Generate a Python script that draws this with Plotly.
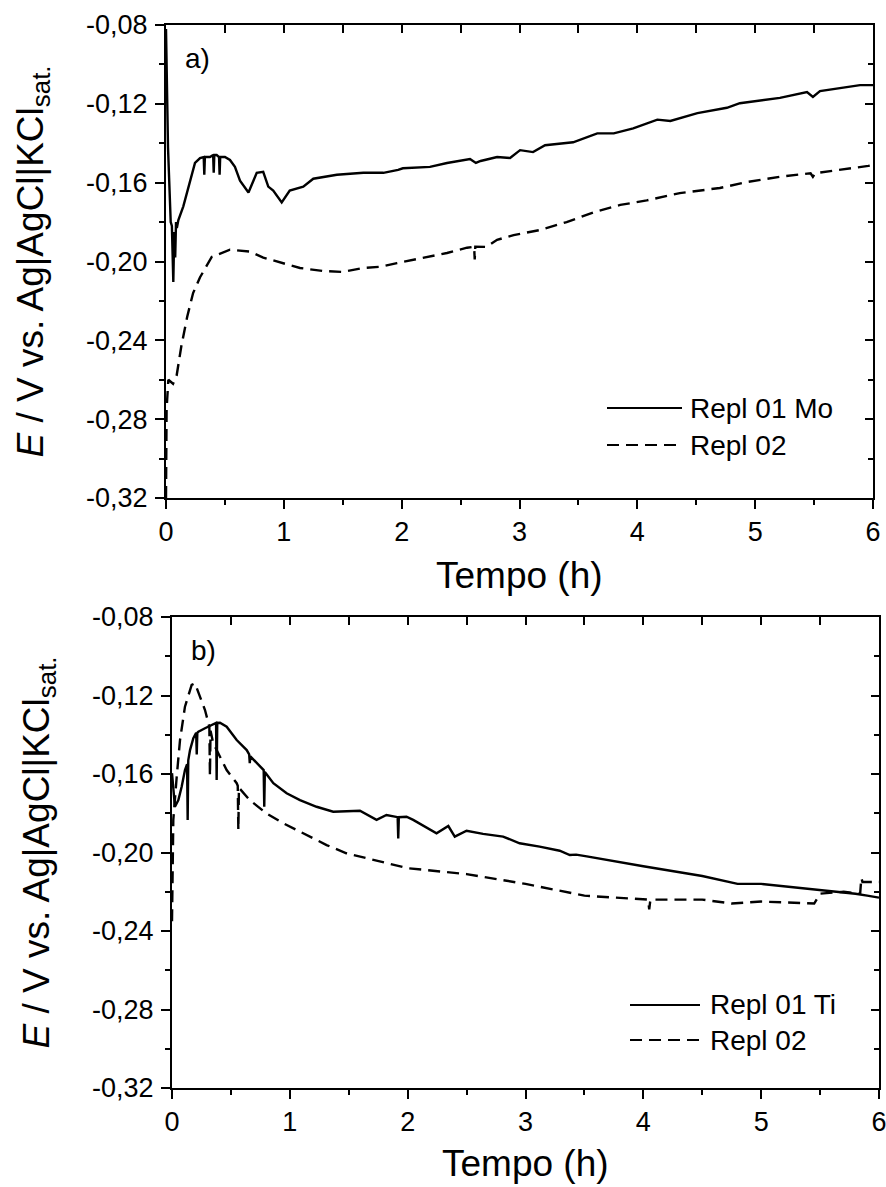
import plotly.graph_objects as go

W, H = 886, 1187

# ---------------- data ----------------
# Panel a) Repl 01 Mo (solid)
t_a1 = [0.0, 0.005, 0.017, 0.04, 0.05, 0.062, 0.07, 0.078, 0.085, 0.092, 0.105, 0.147, 0.204, 0.246, 0.289,
        0.32, 0.325, 0.33, 0.373, 0.40, 0.405, 0.41, 0.43, 0.45, 0.455, 0.46, 0.50, 0.543, 0.585, 0.628, 0.70,
        0.77, 0.825, 0.868, 0.91, 0.982, 1.05, 1.165, 1.25, 1.45, 1.675, 1.845, 1.97, 2.01, 2.24, 2.385, 2.58,
        2.63, 2.67, 2.81, 2.92, 3.005, 3.115, 3.217, 3.455, 3.66, 3.80, 3.965, 4.17, 4.28, 4.51, 4.76, 4.87,
        5.21, 5.44, 5.49, 5.55, 5.78, 5.89, 6.0]
e_a1 = [-0.082, -0.11, -0.142, -0.180, -0.182, -0.2104, -0.185, -0.198, -0.180, -0.183, -0.179, -0.172, -0.159,
        -0.150, -0.1475, -0.147, -0.156, -0.147, -0.147, -0.146, -0.155, -0.146, -0.146, -0.147, -0.156, -0.147,
        -0.147, -0.1485, -0.152, -0.159, -0.165, -0.155, -0.1545, -0.162, -0.164, -0.170, -0.164, -0.162, -0.158,
        -0.156, -0.155, -0.155, -0.1535, -0.1527, -0.152, -0.150, -0.148, -0.150, -0.149, -0.147, -0.1475,
        -0.1435, -0.1445, -0.141, -0.1395, -0.135, -0.135, -0.1325, -0.128, -0.1287, -0.1247, -0.122, -0.1197,
        -0.117, -0.114, -0.1165, -0.1135, -0.1115, -0.1105, -0.1105]

# Panel a) Repl 02 (dashed)
t_a2 = [0.0, 0.005, 0.02, 0.06, 0.09, 0.13, 0.18, 0.23, 0.289, 0.388, 0.543, 0.713, 0.825, 0.993, 1.137, 1.33,
        1.50, 1.675, 1.817, 1.96, 2.18, 2.385, 2.555, 2.615, 2.62, 2.625, 2.72, 2.81, 2.95, 3.175, 3.40, 3.63,
        3.855, 4.08, 4.36, 4.70, 4.93, 5.21, 5.47, 5.49, 5.51, 5.72, 5.96, 6.0]
e_a2 = [-0.32, -0.275, -0.260, -0.262, -0.258, -0.243, -0.228, -0.216, -0.208, -0.1977, -0.194, -0.195, -0.198,
        -0.2008, -0.2033, -0.2048, -0.2053, -0.2033, -0.2027, -0.2008, -0.198, -0.1957, -0.193, -0.1925, -0.199,
        -0.1925, -0.1926, -0.189, -0.1866, -0.184, -0.180, -0.175, -0.1713, -0.169, -0.1653, -0.1627, -0.1597,
        -0.157, -0.1552, -0.157, -0.1552, -0.1536, -0.1515, -0.151]

# Panel b) Repl 01 Ti (solid)
t_b1 = [0.0, 0.025, 0.054, 0.082, 0.11, 0.128, 0.133, 0.138, 0.153, 0.181, 0.205, 0.21, 0.215, 0.224, 0.28,
        0.35, 0.374, 0.379, 0.384, 0.407, 0.464, 0.549, 0.634, 0.655, 0.66, 0.665, 0.746, 0.778, 0.783, 0.788,
        0.86, 0.973, 1.086, 1.227, 1.368, 1.595, 1.736, 1.82, 1.915, 1.92, 1.925, 1.99, 2.047, 2.245, 2.345,
        2.40, 2.50, 2.64, 2.81, 2.95, 3.12, 3.29, 3.376, 3.43, 3.52, 3.66, 4.0, 4.5, 4.8, 5.0, 5.5, 5.8, 5.9,
        6.0]
e_b1 = [-0.1596, -0.1767, -0.1733, -0.1665, -0.158, -0.155, -0.1834, -0.153, -0.1478, -0.1417, -0.139, -0.150,
        -0.139, -0.1384, -0.1367, -0.1345, -0.134, -0.163, -0.134, -0.1339, -0.1359, -0.1427, -0.1478, -0.150,
        -0.1545, -0.151, -0.1563, -0.158, -0.1767, -0.159, -0.1647, -0.1698, -0.1733, -0.1767, -0.1792, -0.1787,
        -0.1834, -0.1809, -0.182, -0.1928, -0.182, -0.1818, -0.1834, -0.1902, -0.1865, -0.1919, -0.1889,
        -0.1905, -0.1919, -0.1953, -0.197, -0.1991, -0.2013, -0.2011, -0.202, -0.2035, -0.207, -0.212, -0.216,
        -0.216, -0.219, -0.221, -0.222, -0.223]

# Panel b) Repl 02 (dashed)
t_b2 = [0.0, 0.011, 0.04, 0.068, 0.11, 0.167, 0.195, 0.237, 0.28, 0.317, 0.322, 0.327, 0.35, 0.379, 0.407,
        0.464, 0.549, 0.558, 0.563, 0.568, 0.66, 0.80, 0.944, 1.114, 1.312, 1.48, 1.65, 2.0, 2.5, 3.0, 3.5,
        4.0, 4.04, 4.05, 4.06, 4.5, 4.75, 5.0, 5.45, 5.5, 5.7, 5.84, 5.85, 5.86, 5.9, 6.0]
e_b2 = [-0.235, -0.1834, -0.1614, -0.1427, -0.1257, -0.1146, -0.1138, -0.1206, -0.1274, -0.1359, -0.161,
        -0.138, -0.1444, -0.1478, -0.1512, -0.158, -0.1647, -0.166, -0.1885, -0.167, -0.1733, -0.180, -0.1851,
        -0.1902, -0.1962, -0.2004, -0.203, -0.208, -0.211, -0.216, -0.222, -0.224, -0.224, -0.229, -0.224,
        -0.224, -0.226, -0.225, -0.226, -0.221, -0.220, -0.221, -0.213, -0.215, -0.215, -0.215]

x_tick_vals = [0, 1, 2, 3, 4, 5, 6]
x_tick_text = ["0", "1", "2", "3", "4", "5", "6"]
y_tick_vals = [-0.32, -0.28, -0.24, -0.20, -0.16, -0.12, -0.08]
y_tick_text = ["-0,32", "-0,28", "-0,24", "-0,20", "-0,16", "-0,12", "-0,08"]
x_minor_vals = [0.5, 1.5, 2.5, 3.5, 4.5, 5.5]
y_minor_vals = [-0.30, -0.26, -0.22, -0.18, -0.14, -0.10]

legend_a = ["Repl 01 Mo", "Repl 02"]
legend_b = ["Repl 01 Ti", "Repl 02"]
panel_labels = ["a)", "b)"]
x_title = "Tempo (h)"
y_title = "<i>E</i> / V vs. Ag|AgCl|KCl<sub>sat.</sub>"

# ---------------- layout helpers ----------------
FONT = "Liberation Sans, Arial, sans-serif"
def px(x):
    return x / W
def py(y):
    return 1 - y / H

panels = [
    dict(x0=166, x1=873, y0=25, y1=498),
    dict(x0=172, x1=879, y0=617, y1=1088),
]

fig = go.Figure()
DASH = "12px,7px"
LW = 2.4

fig.add_trace(go.Scatter(x=t_a1, y=e_a1, mode="lines", line=dict(color="black", width=LW),
                         xaxis="x", yaxis="y", showlegend=False))
fig.add_trace(go.Scatter(x=t_a2, y=e_a2, mode="lines", line=dict(color="black", width=LW, dash=DASH),
                         xaxis="x", yaxis="y", showlegend=False))
fig.add_trace(go.Scatter(x=t_b1, y=e_b1, mode="lines", line=dict(color="black", width=LW),
                         xaxis="x2", yaxis="y2", showlegend=False))
fig.add_trace(go.Scatter(x=t_b2, y=e_b2, mode="lines", line=dict(color="black", width=LW, dash=DASH),
                         xaxis="x2", yaxis="y2", showlegend=False))

TICKF = dict(family=FONT, size=27, color="black")
layout = dict(width=W, height=H, autosize=False, margin=dict(l=0, r=0, t=0, b=0),
              paper_bgcolor="white", plot_bgcolor="white", showlegend=False)

for i, p in enumerate(panels):
    n = "" if i == 0 else "2"
    on = "3" if i == 0 else "4"
    xd = [px(p["x0"]), px(p["x1"])]
    yd = [py(p["y1"]), py(p["y0"])]
    common_x = dict(range=[0, 6], showgrid=False, zeroline=False, automargin=False)
    common_y = dict(range=[-0.32, -0.08], showgrid=False, zeroline=False, automargin=False)
    layout["xaxis" + n] = dict(domain=xd, anchor="y" + n, showline=True, linewidth=2, linecolor="black",
                               mirror=True, ticks="outside", ticklen=9, tickwidth=2, tickcolor="black",
                               tickmode="array", tickvals=x_tick_vals, ticktext=x_tick_text, tickfont=TICKF,
                               ticklabeloverflow="allow",
                               minor=dict(tickmode="array", tickvals=x_minor_vals, ticks="outside", ticklen=5,
                                          tickwidth=2, tickcolor="black"),
                               **common_x)
    layout["yaxis" + n] = dict(domain=yd, anchor="x" + n, showline=True, linewidth=2, linecolor="black",
                               mirror=True, ticks="outside", ticklen=9, tickwidth=2, tickcolor="black",
                               tickmode="array", tickvals=y_tick_vals, ticktext=y_tick_text, tickfont=TICKF,
                               ticklabelstandoff=2, ticklabeloverflow="allow",
                               minor=dict(tickmode="array", tickvals=y_minor_vals, ticks="outside", ticklen=5,
                                          tickwidth=2, tickcolor="black"),
                               **common_y)
    # inward ticks on top and right
    layout["xaxis" + on] = dict(overlaying="x" + n, anchor="y" + n, side="top", showline=False,
                                ticks="inside", ticklen=8, tickwidth=2, tickcolor="black",
                                showticklabels=False, tickmode="array", tickvals=x_tick_vals,
                                minor=dict(tickmode="array", tickvals=x_minor_vals, ticks="inside", ticklen=8,
                                           tickwidth=2, tickcolor="black"),
                                **common_x)
    layout["yaxis" + on] = dict(overlaying="y" + n, anchor="x" + n, side="right", showline=False,
                                ticks="inside", ticklen=8, tickwidth=2, tickcolor="black",
                                showticklabels=False, tickmode="array", tickvals=y_tick_vals,
                                minor=dict(tickmode="array", tickvals=y_minor_vals, ticks="inside", ticklen=5,
                                           tickwidth=2, tickcolor="black"),
                                **common_y)

fig.update_layout(**layout)

# invisible traces to activate the overlay (tick-only) axes
for on in ["3", "4"]:
    fig.add_trace(go.Scatter(x=[0], y=[-0.2], mode="markers", marker=dict(opacity=0),
                             xaxis="x" + on, yaxis="y" + on, showlegend=False, hoverinfo="skip"))

ann = []
shapes = []
title_y_centers = [575, 1163]
for i, p in enumerate(panels):
    cx = (p["x0"] + p["x1"]) / 2
    ann.append(dict(text=x_title, x=px(cx), y=py(title_y_centers[i]), xref="paper", yref="paper",
                    showarrow=False, xanchor="center", yanchor="middle",
                    font=dict(family=FONT, size=37, color="black")))
    ann.append(dict(text=y_title, x=px(32 + (p["x0"] - 166)), y=py((p["y0"] + p["y1"]) / 2), xref="paper",
                    yref="paper", showarrow=False, textangle=-90, xanchor="center", yanchor="middle",
                    font=dict(family=FONT, size=37, color="black")))
    ann.append(dict(text=panel_labels[i], x=px(p["x0"] + 17), y=py(p["y0"] + 33), xref="paper", yref="paper",
                    showarrow=False, xanchor="left", yanchor="middle",
                    font=dict(family=FONT, size=28, color="black")))

legends = [
    dict(items=legend_a, lx0=607, lx1=682, tx=688, ys=[408, 445]),
    dict(items=legend_b, lx0=630, lx1=700, tx=708, ys=[1005, 1040]),
]
for lg in legends:
    for j, (lab, yy) in enumerate(zip(lg["items"], lg["ys"])):
        shapes.append(dict(type="line", xref="paper", yref="paper", x0=px(lg["lx0"]), x1=px(lg["lx1"]),
                           y0=py(yy), y1=py(yy),
                           line=dict(color="black", width=2, dash="solid" if j == 0 else DASH)))
        ann.append(dict(text=lab, x=px(lg["tx"]), y=py(yy), xref="paper", yref="paper", showarrow=False,
                        xanchor="left", yanchor="middle", font=dict(family=FONT, size=28, color="black")))

fig.update_layout(annotations=ann, shapes=shapes)
fig.write_html("out.html", config={"displayModeBar": False},
               post_script="document.body.style.margin='0';document.body.style.overflow='hidden';")
